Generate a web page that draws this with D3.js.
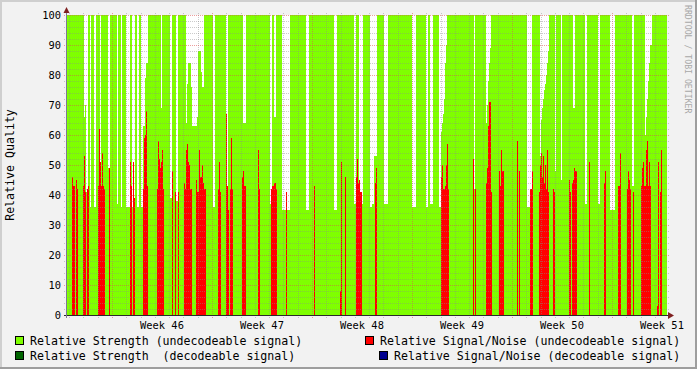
<!DOCTYPE html>
<html><head><meta charset="utf-8">
<script src="https://cdn.jsdelivr.net/npm/d3@7"></script>
<style>html,body{margin:0;padding:0;background:#f2f2f2;overflow:hidden}svg{display:block}</style>
</head><body>
<script>
// ---------------- data ----------------
const startTime = new Date(2008, 10, 6, 20, 24); // first sample
const stepMinutes = 100.8;                        // rrd step
const sampleCount = 600;
const yTickValues = [0, 10, 20, 30, 40, 50, 60, 70, 80, 90, 100];
const weekLabelPrefix = "Week ";

// Relative Strength (undecodeable signal): run-length [samples, value]
const strengthRuns = [
  [17,100],[1,66],[1,70],[2,41],[2,100],[1,36],[3,100],[2,36],[4,100],[1,40],[7,100],[2,49],[7,100],[1,37],
  [3,100],[1,36],[4,100],[4,36],[2,100],[3,36],[2,100],[2,36],[2,100],[2,36],[2,63],[1,79],[2,84],
  [13,100],[1,69],[8,100],[2,39],[4,100],[2,38],[8,100],[1,64],[1,77],[3,84],[1,76],[5,63],[1,66],[3,88],
  [1,81],[2,76],[9,100],[2,36],[11,100],[2,35],[15,100],[3,64],[24,100],[2,37],[2,100],[2,66],[6,100],
  [8,35],[16,100],[3,35],[25,100],[3,35],[17,100],[2,37],[3,100],[4,37],[7,100],[2,36],[2,37],[3,53],
  [7,100],[4,37],[24,100],[4,36],[10,100],[2,36],[2,100],[3,37],[6,100],[2,36],[1,61],[1,64],[1,67],
  [1,72],[1,84],[1,90],[27,100],[1,42],[11,100],[1,64],[1,70],[1,78],[1,84],[1,89],[36,100],[5,36],
  [8,100],[1,53],[1,65],[1,69],[1,72],[1,75],[1,77],[1,80],[1,84],[1,88],[6,100],[1,48],[5,100],[1,45],
  [11,100],[2,69],[10,100],[2,37],[11,100],[2,37],[10,100],[5,35],[17,100],[2,43],[11,100],[1,60],
  [1,66],[1,72],[1,78],[1,84],[2,90],[15,100]
];

// Relative Signal/Noise (undecodeable signal): [first sample, consecutive values]
const snrBursts = [
  [5,[46,43,43]],[9,[45,42]],[16,[43,53,41]],[20,[42,43]],[31,[43,62,51,43,54,43,42]],[42,[49]],
  [63,[51,43]],[66,[51,39]],[76,[42,59,60,68,43]],[90,[42,58,52,49,51,55,42]],[105,[48]],[108,[41]],
  [111,[41]],[117,[44,42,55,57,51,50,42,42]],[129,[45,41,41,55,46,46,50,44,42,42]],[151,[42,51,41]],
  [159,[67,43,35]],[163,[42,59,42]],[175,[46,48,43,43]],[191,[55,42]],[204,[42,43,43,44,44,42]],
  [219,[41]],[247,[43]],[273,[8,51]],[278,[46]],[289,[46,52,44,45,41,41]],[308,[44,49]],
  [374,[46,50,42,42,43,50,57,42]],[406,[52]],[408,[42]],[419,[44,49,63,71,71,41]],[432,[48,43,55,48,48]],
  [450,[58]],[452,[48]],[463,[42,42,48]],[472,[41,50,54,46,53,44,50,42,55,41]],[486,[42,41]],
  [502,[45,41]],[505,[44,45,49,48,48]],[522,[51]],[537,[44,48]],[551,[43,43,54]],[560,[42,48,45,42]],
  [566,[41]],[574,[43,49,51,43,43,55,58,43,51,43]],[590,[3,51]],[593,[41,55]]
];

// decodeable-signal series: no samples recorded in this period
const strengthDecodeableBursts = [];
const snrDecodeableBursts = [];

const legendItems = [
  {label: "Relative Strength (undecodeable signal)", color: "#7fff00"},
  {label: "Relative Signal/Noise (undecodeable signal)", color: "#ff0000"},
  {label: "Relative Strength  (decodeable signal)", color: "#006400"},
  {label: "Relative Signal/Noise (decodeable signal)", color: "#00008f"}
];

// ---------------- layout ----------------
const W = 697, H = 369;
const plot = {left: 67, right: 667, top: 15, bottom: 315};
const stepMs = stepMinutes * 60000;
const endTime = new Date(+startTime + sampleCount * stepMs);
const tAt = i => new Date(+startTime + i * stepMs);

const x = d3.scaleTime().domain([startTime, endTime]).range([plot.left, plot.right]);
const y = d3.scaleLinear().domain([0, 100]).range([plot.bottom, plot.top]);

const svg = d3.select("body").append("svg").attr("width", W).attr("height", H)
  .style("font-family", "'DejaVu Sans Mono', monospace");

// background and 3D frame
svg.append("rect").attr("width", W).attr("height", H).attr("fill", "#f2f2f2");
svg.append("rect").attr("x", 0).attr("y", 0).attr("width", W).attr("height", 2).attr("fill", "#cfcfcf");
svg.append("rect").attr("x", 0).attr("y", 0).attr("width", 2).attr("height", H).attr("fill", "#cfcfcf");
svg.append("rect").attr("x", 0).attr("y", H - 2).attr("width", W).attr("height", 2).attr("fill", "#9e9e9e");
svg.append("rect").attr("x", W - 2).attr("y", 0).attr("width", 2).attr("height", H).attr("fill", "#9e9e9e");

// canvas
svg.append("rect").attr("x", plot.left).attr("y", plot.top)
  .attr("width", plot.right - plot.left).attr("height", plot.bottom - plot.top).attr("fill", "#ffffff");

const marks = svg.append("g").attr("shape-rendering", "crispEdges");

// strength area (run-length)
let cursor = 0;
const strengthRects = strengthRuns.map(([n, v]) => {
  const r = {i0: cursor, i1: cursor + n, v};
  cursor += n;
  return r;
}).filter(r => r.v != null);
marks.append("g").selectAll("rect").data(strengthRects).join("rect")
  .attr("x", d => x(tAt(d.i0))).attr("width", d => x(tAt(d.i1)) - x(tAt(d.i0)))
  .attr("y", d => y(d.v)).attr("height", d => y(0) - y(d.v))
  .attr("fill", "#7fff00");

function burstsToSamples(bursts) {
  const out = [];
  bursts.forEach(([i0, vals]) => vals.forEach((v, k) => out.push({i: i0 + k, v})));
  return out;
}
function drawSamples(samples, color) {
  marks.append("g").selectAll("rect").data(samples).join("rect")
    .attr("x", d => x(tAt(d.i))).attr("width", d => x(tAt(d.i + 1)) - x(tAt(d.i)))
    .attr("y", d => y(d.v)).attr("height", d => y(0) - y(d.v))
    .attr("fill", color);
}
drawSamples(burstsToSamples(snrBursts), "#ff0000");
drawSamples(burstsToSamples(strengthDecodeableBursts), "#006400");
drawSamples(burstsToSamples(snrDecodeableBursts), "#00008f");

// grid (on top, dotted)
const grid = svg.append("g").attr("shape-rendering", "crispEdges").attr("stroke-dasharray", "1,1");
const days = d3.timeDay.range(d3.timeDay.ceil(startTime), endTime);
days.forEach(d => {
  const px = Math.round(x(d)) + 0.5;
  const major = d.getDay() === 1;
  grid.append("line").attr("x1", px).attr("x2", px).attr("y1", plot.top - 2).attr("y2", plot.bottom + 3)
    .attr("stroke", major ? "rgba(222,79,79,0.55)" : "rgba(140,140,140,0.45)");
});
d3.range(0, 101, 2).forEach(v => {
  const py = Math.round(y(v)) + 0.5;
  const major = v % 10 === 0;
  grid.append("line").attr("x1", plot.left - 3).attr("x2", plot.right + 2).attr("y1", py).attr("y2", py)
    .attr("stroke", major ? "rgba(222,79,79,0.55)" : "rgba(140,140,140,0.45)");
});

// axes
const ax = svg.append("g").attr("shape-rendering", "crispEdges");
ax.append("line").attr("x1", plot.left - 3).attr("x2", plot.right + 5)
  .attr("y1", plot.bottom + 0.5).attr("y2", plot.bottom + 0.5).attr("stroke", "#2a2a2a");
ax.append("line").attr("x1", plot.left - 0.5).attr("x2", plot.left - 0.5)
  .attr("y1", plot.bottom + 3).attr("y2", plot.top - 3).attr("stroke", "#7c7894");
svg.append("path").attr("d", `M${plot.right + 1},${plot.bottom - 3}L${plot.right + 7},${plot.bottom + 0.5}L${plot.right + 1},${plot.bottom + 4}Z`)
  .attr("fill", "#7f2020");
svg.append("path").attr("d", `M${plot.left - 3.5},${plot.top - 2}L${plot.left - 0.5},${plot.top - 8}L${plot.left + 2.5},${plot.top - 2}Z`)
  .attr("fill", "#7f2020");

// y labels
svg.append("g").selectAll("text").data(yTickValues).join("text")
  .attr("x", 61).attr("y", d => y(d) + 3.8).attr("text-anchor", "end")
  .attr("font-size", "10.4px").attr("fill", "#000").text(d => d);

// week labels (centered in each week)
const mondays = d3.timeMonday.range(d3.timeMonday.floor(startTime), endTime);
const fmtWeek = d3.timeFormat("%V");
const weekLabels = mondays.map(m => ({t: new Date(+m + 3.5 * 86400000), label: weekLabelPrefix + fmtWeek(m)}))
  .filter(d => d.t >= startTime && d.t <= endTime);
svg.append("g").selectAll("text").data(weekLabels).join("text")
  .attr("x", d => x(d.t)).attr("y", 328.5).attr("text-anchor", "middle")
  .attr("font-size", "10.4px").attr("fill", "#000").text(d => d.label);

// y title
svg.append("text").attr("transform", `translate(14,${(plot.top + plot.bottom) / 2}) rotate(-90)`)
  .attr("text-anchor", "middle").attr("font-size", "11.6px").attr("fill", "#000").text("Relative Quality");

// watermark
svg.append("text").attr("transform", "translate(685,5) rotate(90)")
  .attr("font-size", "8.2px").attr("fill", "#a8a8a8").text("RRDTOOL / TOBI OETIKER");

// legend
const legendPos = [[15, 336, 30], [365, 336, 380], [15, 351, 30], [379, 351, 394]];
const lg = svg.append("g");
legendItems.forEach((item, k) => {
  const [sx, sy, tx] = legendPos[k];
  lg.append("rect").attr("x", sx + 0.5).attr("y", sy + 0.5).attr("width", 8).attr("height", 8)
    .attr("fill", item.color).attr("stroke", "#000").attr("shape-rendering", "crispEdges");
  lg.append("text").attr("x", tx).attr("y", sy + 9).attr("font-size", "11.6px").attr("fill", "#000")
    .attr("xml:space", "preserve").style("white-space", "pre").text(item.label);
});
</script>
</body></html>
